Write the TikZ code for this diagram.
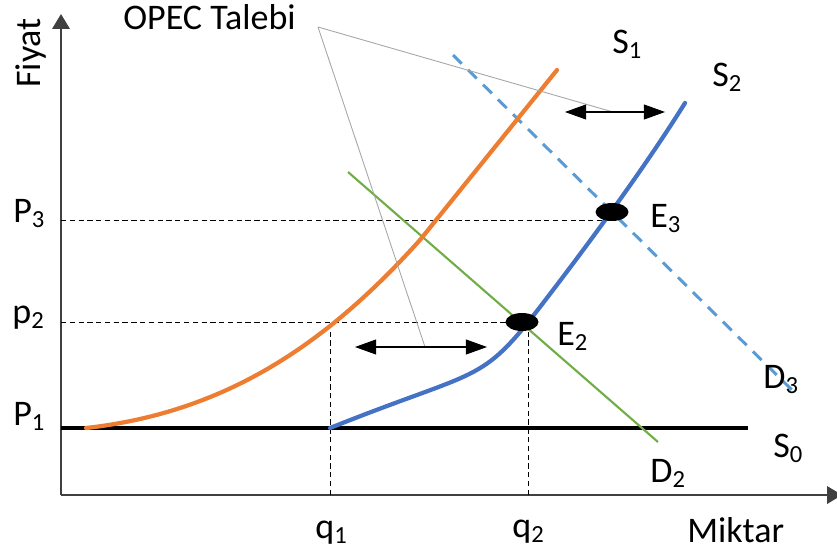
\documentclass[tikz,border=0pt]{standalone}
\usepackage{fontspec}
\setmainfont{Carlito}
\usetikzlibrary{arrows.meta,shapes.geometric}
\definecolor{supplyOld}{HTML}{ED7D31}
\definecolor{supplyNew}{HTML}{4472C4}
\definecolor{demandOld}{HTML}{70AD47}
\definecolor{demandNew}{HTML}{5B9BD5}
\newcommand{\ix}[1]{\raisebox{-.3ex}{\fontsize{14}{14}\selectfont #1}}
\begin{document}
\begin{tikzpicture}[x=0.02cm, y=-0.02cm,
    every node/.style={font=\fontsize{20.5}{24}\selectfont, inner sep=0pt, anchor=base west},
    axis/.style={draw=black!75, line width=1pt, -{Triangle[length=8.5pt,width=10pt]}},
    guide/.style={black, line width=0.5pt, dash pattern=on 3pt off 2pt},
    curve/.style={line width=2.4pt, line cap=round},
    shiftarrow/.style={line width=0.6pt, {Triangle[length=12pt,width=8.5pt]}-{Triangle[length=12pt,width=8.5pt]}},
    leader/.style={draw=black!35, line width=0.5pt},
    eq/.style={ellipse, fill=black, minimum width=0.66cm, minimum height=0.36cm, anchor=center}]
    \useasboundingbox (0,0) rectangle (837,551);
    \coordinate (O) at (61,495);
    \coordinate (P3) at (61,220);
    \coordinate (p2) at (61,322);
    \coordinate (P1) at (61,428);
    \coordinate (q1) at (330,495);
    \coordinate (q2) at (528,495);
    \coordinate (e2) at (522,322);
    \coordinate (e3) at (612,212);
    \coordinate (s0end) at (748,428);
    \draw[axis] (O) -- (61,14);
    \draw[axis] (O) -- (842,495);
    \node[rotate=90] (fiyat) at (40,88) {Fiyat};
    \node (miktar) at (687,542) {Miktar};
    \node (lP3) at (13,222) {P\ix{3}};
    \node (lp2) at (12,323) {p\ix{2}};
    \node (lP1) at (13,425) {P\ix{1}};
    \node (lq1) at (315,538) {q\ix{1}};
    \node (lq2) at (512,537) {q\ix{2}};
    \draw[guide] (P3) -- (e3 |- P3);
    \draw[guide] (p2) -- (e2);
    \draw[guide] (q1) -- (q1 |- p2);
    \draw[guide] (q2) -- (q2 |- p2);
    \draw[line width=2.2pt] (P1) -- (s0end);
    \draw[demandNew, line width=1.7pt, dash pattern=on 7pt off 5pt] (453,55) coordinate (d3a) -- (797,395) coordinate (d3b);
    \draw[demandOld, line width=1.2pt] (348,172) coordinate (d2a) -- (658,442) coordinate (d2b);
    \draw[curve, supplyOld] (86,428) .. controls (230,412) and (330,340) .. (420,240) -- (557,70);
    \draw[curve, supplyNew] (330,428) .. controls (480,368) and (480,385) .. (540,307)
        .. controls (580,255) and (640,175) .. (685,103);
    \node (opec) at (123,30) {OPEC Talebi};
    \coordinate (tip) at (318,27);
    \coordinate (a1l) at (565,112);
    \coordinate (a1m) at (613,112);
    \coordinate (a1r) at (665,112);
    \coordinate (a2l) at (355,347);
    \coordinate (a2m) at (425,347);
    \coordinate (a2r) at (487,347);
    \draw[leader] (tip) -- (a1m);
    \draw[leader] (tip) -- (a2m);
    \draw[shiftarrow] (a1l) -- (a1r);
    \draw[shiftarrow] (a2l) -- (a2r);
    \node[eq] (E2) at (e2) {};
    \node[eq] (E3) at (e3) {};
    \node (lE2) at (557,345) {E\ix{2}};
    \node (lE3) at (650,227) {E\ix{3}};
    \node (lD2) at (650,482) {D\ix{2}};
    \node (lD3) at (763,388) {D\ix{3}};
    \node (lS0) at (773,457) {S\ix{0}};
    \node (lS1) at (612,53) {S\ix{1}};
    \node (lS2) at (712,86) {S\ix{2}};
\end{tikzpicture}
\end{document}
